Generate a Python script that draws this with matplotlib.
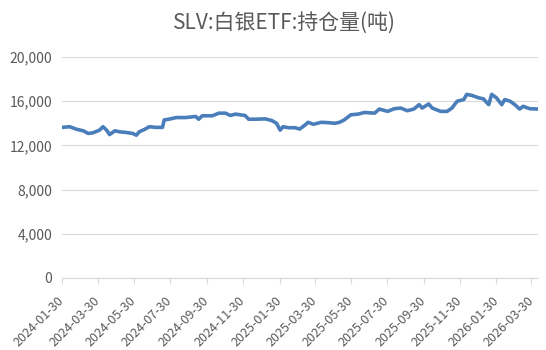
import numpy as np
import pandas as pd
import matplotlib
matplotlib.use("Agg")
import matplotlib.pyplot as plt
import matplotlib.transforms as mtransforms
from matplotlib.ticker import FuncFormatter

plt.rcParams['font.family'] = ['Noto Sans CJK SC', 'DejaVu Sans']

# holdings of SLV, tonnes
dates = ["2024-01-30", "2024-02-01", "2024-02-12", "2024-02-24", "2024-03-06", "2024-03-14",
         "2024-03-22", "2024-04-02", "2024-04-08", "2024-04-14", "2024-04-19", "2024-04-28",
         "2024-05-06", "2024-05-17", "2024-05-28", "2024-06-03", "2024-06-08", "2024-06-17",
         "2024-06-25", "2024-07-06", "2024-07-17", "2024-07-20", "2024-07-28", "2024-08-09",
         "2024-08-25", "2024-09-11", "2024-09-16", "2024-09-22", "2024-10-09", "2024-10-20",
         "2024-10-31", "2024-11-08", "2024-11-17", "2024-12-03", "2024-12-09", "2024-12-20",
         "2025-01-06", "2025-01-17", "2025-01-25", "2025-01-31", "2025-02-05", "2025-02-14",
         "2025-02-25", "2025-03-05", "2025-03-14", "2025-03-19", "2025-03-28", "2025-04-10",
         "2025-04-22", "2025-05-03", "2025-05-11", "2025-05-19", "2025-05-30", "2025-06-11",
         "2025-06-22", "2025-07-09", "2025-07-17", "2025-07-31", "2025-08-11", "2025-08-22",
         "2025-09-02", "2025-09-13", "2025-09-22", "2025-09-27", "2025-10-08", "2025-10-14",
         "2025-10-28", "2025-11-08", "2025-11-16", "2025-11-25", "2025-12-06", "2025-12-11",
         "2025-12-20", "2025-12-31", "2026-01-08", "2026-01-17", "2026-01-22", "2026-01-30",
         "2026-02-08", "2026-02-13", "2026-02-22", "2026-03-02", "2026-03-10", "2026-03-16",
         "2026-03-27", "2026-04-10"]
values = [13630, 13640, 13690, 13450, 13320, 13080,
          13140, 13380, 13690, 13380, 12980, 13320,
          13230, 13170, 13080, 12920, 13230, 13450,
          13690, 13630, 13630, 14310, 14370, 14520,
          14520, 14620, 14370, 14680, 14680, 14920,
          14920, 14710, 14830, 14710, 14370, 14370,
          14400, 14250, 14000, 13380, 13690, 13600,
          13600, 13480, 13850, 14090, 13910, 14090,
          14060, 14000, 14090, 14310, 14770, 14830,
          14980, 14920, 15290, 15080, 15320, 15380,
          15140, 15290, 15690, 15380, 15750, 15380,
          15080, 15080, 15380, 16000, 16150, 16620,
          16520, 16310, 16220, 15690, 16620, 16310,
          15690, 16150, 16000, 15690, 15290, 15540,
          15320, 15290]

tick_dates = ["2024-01-30", "2024-03-30", "2024-05-30", "2024-07-30", "2024-09-30",
              "2024-11-30", "2025-01-30", "2025-03-30", "2025-05-30", "2025-07-30",
              "2025-09-30", "2025-11-30", "2026-01-30", "2026-03-30"]
y_ticks = [0, 4000, 8000, 12000, 16000, 20000]

x = pd.to_datetime(dates)
xt = pd.to_datetime(tick_dates)

fig = plt.figure(figsize=(5.46, 3.5), dpi=100)
ax = fig.add_axes([0.1136, 0.206, 0.8718, 0.631])

ax.plot(x, values, color='#4a7ebb', linewidth=2.6, solid_joinstyle='round')

ax.set_ylim(0, 20000)
ax.set_yticks(y_ticks)
ax.yaxis.set_major_formatter(FuncFormatter(lambda v, p: f"{int(v):,}"))
ax.set_xlim(x[0], x[-1])
ax.set_xticks(xt)
ax.set_xticklabels(tick_dates, rotation=45, ha='right', va='center', rotation_mode='anchor')
shift = mtransforms.ScaledTranslation(4 / 100, 0, fig.dpi_scale_trans)
for lab in ax.get_xticklabels():
    lab.set_transform(lab.get_transform() + shift)

ax.grid(axis='y', color='#d9d9d9', linewidth=0.8)
ax.set_axisbelow(True)
for s in ['top', 'right', 'left']:
    ax.spines[s].set_visible(False)
ax.spines['bottom'].set_color('#d9d9d9')
ax.tick_params(axis='y', length=0, labelsize=10, colors='#595959', pad=7)
ax.tick_params(axis='x', length=4, color='#d9d9d9', labelsize=9, labelcolor='#595959', pad=11)

fig.suptitle("SLV:白银ETF:持仓量(吨)", x=0.521, y=0.965, fontsize=15, color='#595959')

fig.savefig("out.png", dpi=100)
